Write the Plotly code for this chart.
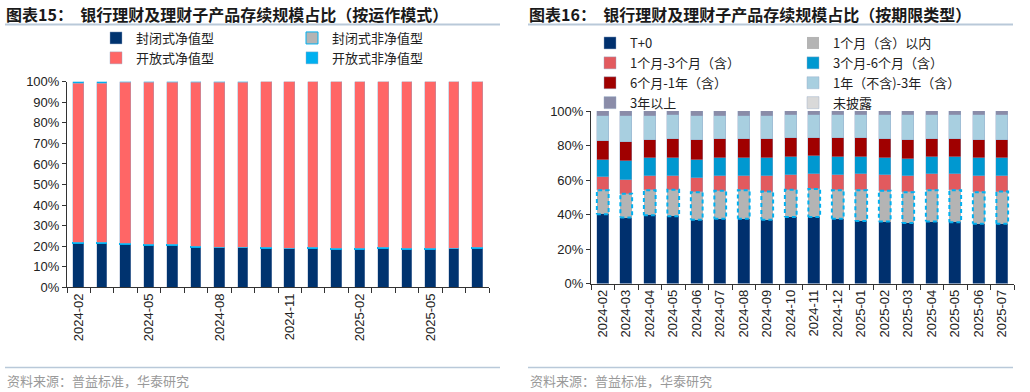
import plotly.graph_objects as go

dates = ["2024-02", "2024-03", "2024-04", "2024-05", "2024-06", "2024-07", "2024-08", "2024-09",
         "2024-10", "2024-11", "2024-12", "2025-01", "2025-02", "2025-03", "2025-04", "2025-05",
         "2025-06", "2025-07"]
left_labels = ["2024-02", "", "", "2024-05", "", "", "2024-08", "", "", "2024-11", "", "",
               "2025-02", "", "", "2025-05", "", ""]

# Chart 15 (%)
closed_nav = [21.1, 21.4, 20.6, 20.2, 20.4, 19.4, 19.1, 19.1, 18.9, 18.7, 18.9, 18.5, 18.5, 18.8, 18.5, 18.5, 18.7, 18.9]
closed_nonnav = [0.5, 0.5, 0.5, 0.4, 0.4, 0.4, 0.3, 0.3, 0.3, 0.3, 0.3, 0.3, 0.3, 0.3, 0.3, 0.3, 0.3, 0.3]
open_nav = [77.6, 77.3, 78.2, 79.0, 78.8, 79.9, 80.3, 80.3, 80.6, 80.8, 80.6, 81.0, 81.0, 80.7, 81.0, 81.0, 80.8, 80.6]
open_nonnav = [0.8, 0.8, 0.7, 0.4, 0.4, 0.3, 0.3, 0.3, 0.2, 0.2, 0.2, 0.2, 0.2, 0.2, 0.2, 0.2, 0.2, 0.2]

# Chart 16 (%)
t0 = [40.2, 38.2, 39.6, 39.0, 37.0, 37.5, 37.6, 37.0, 38.6, 38.6, 37.5, 36.3, 35.9, 35.1, 35.9, 35.5, 34.7, 34.7]
m1 = [13.8, 13.9, 14.4, 15.4, 15.9, 16.2, 16.4, 16.3, 15.8, 16.2, 16.5, 17.7, 17.8, 17.8, 18.1, 18.5, 18.2, 18.6]
m1_3 = [7.8, 8.1, 8.5, 8.1, 8.5, 8.8, 8.5, 9.2, 8.5, 8.5, 8.9, 9.3, 9.2, 9.3, 9.7, 9.3, 9.6, 9.2]
m3_6 = [10.0, 10.8, 10.5, 10.5, 10.4, 10.5, 10.5, 10.1, 10.5, 10.4, 10.5, 10.1, 10.1, 10.0, 9.7, 10.1, 10.1, 10.1]
m6_12 = [10.8, 11.2, 10.4, 10.8, 11.2, 10.8, 10.8, 11.2, 10.8, 10.5, 10.8, 10.8, 10.8, 10.8, 10.4, 10.4, 10.4, 10.4]
y1_3 = [14.5, 14.9, 13.9, 13.7, 14.3, 13.5, 13.5, 13.5, 13.3, 13.3, 13.3, 13.3, 13.7, 14.5, 13.7, 13.7, 14.5, 14.5]
y3p = [2.7, 2.7, 2.5, 2.3, 2.5, 2.5, 2.5, 2.5, 2.3, 2.3, 2.3, 2.3, 2.3, 2.3, 2.3, 2.3, 2.3, 2.3]
undisclosed = [0.2] * 18

W, H = 1030, 392
CJK = "Noto Sans CJK SC"
LAT = "Arial, Liberation Sans, sans-serif"
xs = list(range(len(dates)))

fig = go.Figure()
edge = dict(color="rgba(150,170,200,0.7)", width=0.6)

def lbar(y, name, color, legend, line=None):
    fig.add_trace(go.Bar(x=xs, y=y, name=name, marker=dict(color=color, line=line or edge),
                         width=0.45, xaxis="x", yaxis="y", legend=legend))

lbar(closed_nav, "封闭式净值型", "#00336f", "legend")
lbar(closed_nonnav, "封闭式非净值型", "#b4b4b4", "legend2", dict(color="#00b0f0", width=1))
lbar(open_nav, "开放式净值型", "#ff6666", "legend")
lbar(open_nonnav, "开放式非净值型", "#00b0f0", "legend2")

BW = 0.5
def rbar(y, name, color, legend, line=None):
    fig.add_trace(go.Bar(x=xs, y=y, name=name, marker=dict(color=color, line=line or edge),
                         width=BW, xaxis="x2", yaxis="y2", legend=legend))

rbar(t0, "T+0", "#00306e", "legend3")
rbar(m1, "1个月（含）以内", "#b4b4b4", "legend4", dict(width=0))
rbar(m1_3, "1个月-3个月（含）", "#e25a5e", "legend3")
rbar(m3_6, "3个月-6个月（含）", "#0098d0", "legend4")
rbar(m6_12, "6个月-1年（含）", "#a00000", "legend3")
rbar(y1_3, "1年（不含)-3年（含）", "#a8cfe0", "legend4")
rbar(y3p, "3年以上", "#8a8ca8", "legend3")
rbar(undisclosed, "未披露", "#d9d9d9", "legend4")

# dashed outline for the 1-month segment
ox, oy = [], []
for i, (a, b) in enumerate(zip(t0, m1)):
    lo, hi = a, a + b
    ox += [i - BW / 2, i + BW / 2, i + BW / 2, i - BW / 2, i - BW / 2, None]
    oy += [lo, lo, hi, hi, lo, None]
fig.add_trace(go.Scatter(x=ox, y=oy, mode="lines", line=dict(color="#00b0f0", width=2, dash="4px,3px"),
                         showlegend=False, hoverinfo="skip", xaxis="x2", yaxis="y2"))

def px(x):
    return x / W

def py(y):
    return 1 - y / H

axis_common = dict(showline=True, linecolor="#333", linewidth=1, showgrid=False, zeroline=False,
                   ticks="outside", ticklen=4, tickcolor="#333",
                   tickfont=dict(family=LAT, size=13, color="#222"))
xcommon = {k: v for k, v in axis_common.items() if k != "ticklen"}

fig.update_layout(
    width=W, height=H, margin=dict(l=0, r=0, t=0, b=0, autoexpand=False),
    paper_bgcolor="white", plot_bgcolor="white", barmode="stack", bargap=0,
    showlegend=True,
    xaxis=dict(domain=[px(67), px(489)], range=[-0.5, 17.5], tickmode="array", tickvals=xs,
               ticktext=left_labels, tickangle=-90, ticklen=0,
               minor=dict(tickmode="array", tickvals=[i - 0.5 for i in range(19)], ticks="outside",
                          ticklen=5, tickcolor="#333"),
               anchor="y", **xcommon),
    yaxis=dict(domain=[py(287.3), py(81.7)], range=[0, 100], dtick=10, ticksuffix="%",
               anchor="x", **axis_common),
    xaxis2=dict(domain=[px(591), px(1014)], range=[-0.5, 17.5], tickmode="array", tickvals=xs,
                ticktext=dates, tickangle=-90, ticklen=0,
                minor=dict(tickmode="array", tickvals=[i - 0.5 for i in range(19)], ticks="outside",
                           ticklen=5, tickcolor="#333"),
                anchor="y2", **xcommon),
    yaxis2=dict(domain=[py(283.5), py(111)], range=[0, 100], dtick=20, ticksuffix="%",
                anchor="x2", **axis_common),
)

legfont = dict(family=CJK, size=13, color="#222")
for name, x, y in [("legend", 96, 23), ("legend2", 292, 23), ("legend3", 590, 28), ("legend4", 793, 28)]:
    fig.update_layout(**{name: dict(x=px(x), y=py(y), xref="container", yref="container",
                                    xanchor="left", yanchor="top",
                                    orientation="v", bgcolor="rgba(0,0,0,0)", font=legfont,
                                    traceorder="normal", itemwidth=30)})

# titles
fig.add_annotation(x=px(4), y=py(14), xref="paper", yref="paper", xanchor="left", yanchor="middle",
                   text="<b>图表15：  银行理财及理财子产品存续规模占比（按运作模式）</b>", showarrow=False,
                   font=dict(family=CJK, size=16, color="#1a1a1a"))
fig.add_annotation(x=px(527), y=py(14), xref="paper", yref="paper", xanchor="left", yanchor="middle",
                   text="<b>图表16：  银行理财及理财子产品存续规模占比（按期限类型）</b>", showarrow=False,
                   font=dict(family=CJK, size=16, color="#1a1a1a"))
for x0 in (5, 528):
    fig.add_annotation(x=px(x0), y=py(380), xref="paper", yref="paper", xanchor="left", yanchor="middle",
                       text="资料来源：普益标准，华泰研究", showarrow=False,
                       font=dict(family=CJK, size=13, color="#999"))

for x0, x1 in ((5, 500), (528, 1013)):
    fig.add_shape(type="line", xref="paper", yref="paper", x0=px(x0), x1=px(x1), y0=py(24.5), y1=py(24.5),
                  line=dict(color="#b9c9d9", width=2))
    fig.add_shape(type="line", xref="paper", yref="paper", x0=px(x0), x1=px(x1), y0=py(367.5), y1=py(367.5),
                  line=dict(color="#b9c9d9", width=1.5))

# remove the default 8px page margin so the figure fills the window exactly
fig.write_html("out.html", config={"displayModeBar": False},
               post_script="document.body.style.margin='0';")
